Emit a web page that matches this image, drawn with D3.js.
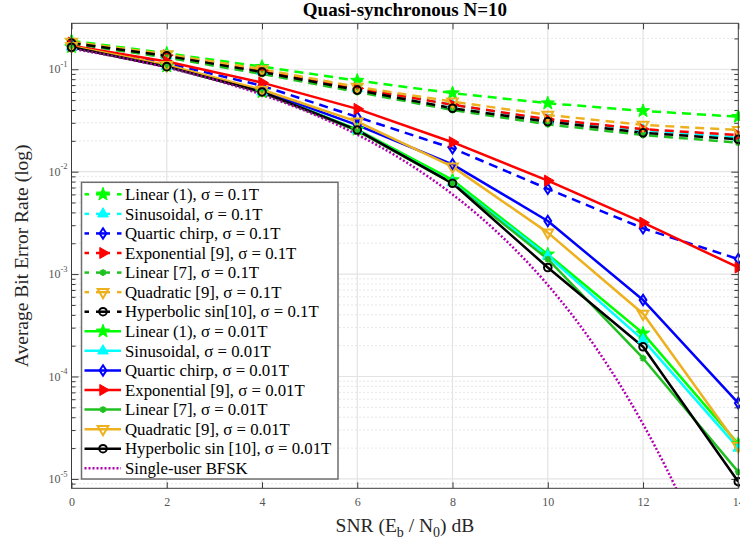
<!DOCTYPE html>
<html>
<head>
<meta charset="utf-8">
<script src="https://cdn.jsdelivr.net/npm/d3@7"></script>
<style>
  body { margin: 0; background: #fff; }
  svg { display: block; }
</style>
</head>
<body>
<svg id="chart" width="740" height="543"></svg>
<script>
// ---- data: average BER versus SNR (dB) ----
const snr = [0, 2, 4, 6, 8, 10, 12, 14];

// sigma = 0.1T (dashed)
const linear1Wide     = [0.190, 0.143, 0.106, 0.0775, 0.0585, 0.0466, 0.0392, 0.0344];
const sinusoidalWide  = [0.180, 0.135, 0.096, 0.0650, 0.0450, 0.0320, 0.0255, 0.0215];
const quarticWide     = [0.170, 0.115, 0.069, 0.0342, 0.0169, 0.0068, 0.0028, 0.0014];
const exponentialWide = [0.182, 0.137, 0.097, 0.0650, 0.0450, 0.0325, 0.0260, 0.0228];
const linear7Wide     = [0.178, 0.130, 0.090, 0.0600, 0.0400, 0.0290, 0.0228, 0.0192];
const quadraticWide   = [0.185, 0.140, 0.100, 0.0672, 0.0483, 0.0358, 0.0286, 0.0255];
const hypsinWide      = [0.180, 0.135, 0.094, 0.0626, 0.0416, 0.0308, 0.0240, 0.0207];

// sigma = 0.01T (solid)
const linear1Narrow     = [0.165, 0.107, 0.060, 0.0258, 0.0083, 0.00156, 0.000264, 0.0000220];
const sinusoidalNarrow  = [0.165, 0.107, 0.060, 0.0255, 0.0078, 0.00150, 0.000228, 0.0000200];
const quarticNarrow     = [0.166, 0.108, 0.062, 0.0285, 0.0118, 0.00330, 0.000558, 0.0000550];
const exponentialNarrow = [0.170, 0.119, 0.074, 0.0410, 0.0194, 0.00817, 0.00318, 0.00116];
const linear7Narrow     = [0.164, 0.106, 0.059, 0.0250, 0.0077, 0.00140, 0.000151, 0.0000117];
const quadraticNarrow   = [0.168, 0.110, 0.063, 0.0308, 0.0112, 0.00254, 0.000410, 0.0000210];
const hypsinNarrow      = [0.164, 0.106, 0.060, 0.0255, 0.0077, 0.00116, 0.000195, 0.0000094];

// single-user BFSK reference curve
const bfskSnr = [0, 1, 2, 3, 4, 5, 6, 7, 8, 9, 10, 11, 12, 12.5, 13];
const bfskBer = [0.159, 0.131, 0.104, 0.0789, 0.0565, 0.0377, 0.0230, 0.0126, 0.0060, 0.00241,
                 0.000783, 0.000194, 0.0000343, 0.0000124, 0.0000040];

const legendLabels = [
  "Linear (1), \u03c3 = 0.1T",
  "Sinusoidal, \u03c3 = 0.1T",
  "Quartic chirp, \u03c3 = 0.1T",
  "Exponential [9], \u03c3 = 0.1T",
  "Linear [7], \u03c3 = 0.1T",
  "Quadratic [9], \u03c3 = 0.1T",
  "Hyperbolic sin[10], \u03c3 = 0.1T",
  "Linear (1), \u03c3 = 0.01T",
  "Sinusoidal, \u03c3 = 0.01T",
  "Quartic chirp, \u03c3 = 0.01T",
  "Exponential [9], \u03c3 = 0.01T",
  "Linear [7], \u03c3 = 0.01T",
  "Quadratic [9], \u03c3 = 0.01T",
  "Hyperbolic sin [10], \u03c3 = 0.01T",
  "Single-user BFSK"
];

const xTickValues = [0, 2, 4, 6, 8, 10, 12, 14];
const yTickExponents = [-1, -2, -3, -4, -5];
const yLimits = [8.1e-6, 0.281];
const xLimits = [0, 14];
const titleText = "Quasi-synchronous N=10";

// ---- styling table ----
const GREEN = "#00ff00", CYAN = "#00ffff", BLUE = "#0000ff", RED = "#ff0000",
      GREEN2 = "#20c020", ORANGE = "#edb120", BLACK = "#000000", PURPLE = "#b000b0";

const seriesTable = [
  { v: linear1Wide,       color: GREEN,  marker: "star",    dash: true },
  { v: sinusoidalWide,    color: CYAN,   marker: "triUp",   dash: true },
  { v: quarticWide,       color: BLUE,   marker: "diamond", dash: true },
  { v: exponentialWide,   color: RED,    marker: "triRight",dash: true },
  { v: linear7Wide,       color: GREEN2, marker: "aster",   dash: true },
  { v: quadraticWide,     color: ORANGE, marker: "triDown", dash: true },
  { v: hypsinWide,        color: BLACK,  marker: "circle",  dash: true },
  { v: linear1Narrow,     color: GREEN,  marker: "star",    dash: false },
  { v: sinusoidalNarrow,  color: CYAN,   marker: "triUp",   dash: false },
  { v: quarticNarrow,     color: BLUE,   marker: "diamond", dash: false },
  { v: exponentialNarrow, color: RED,    marker: "triRight",dash: false },
  { v: linear7Narrow,     color: GREEN2, marker: "aster",   dash: false },
  { v: quadraticNarrow,   color: ORANGE, marker: "triDown", dash: false },
  { v: hypsinNarrow,      color: BLACK,  marker: "circle",  dash: false }
];

// ---- layout ----
const svg = d3.select("#chart");
const L = 71.5, R = 738.3, T = 23.3, B = 488.3;
const x = d3.scaleLinear().domain(xLimits).range([L, R]);
const y = d3.scaleLog().domain(yLimits).range([B, T]);
const SERIF = "'Liberation Serif', 'Times New Roman', Times, serif";

// minor decade values inside the axis range
const minorVals = [];
for (let e = -6; e <= 0; e++) {
  for (let m = 2; m <= 9; m++) {
    const v = m * Math.pow(10, e);
    if (v >= yLimits[0] && v <= yLimits[1]) minorVals.push(v);
  }
}
const majorVals = yTickExponents.map(e => Math.pow(10, e));

// ---- grid ----
const grid = svg.append("g");
grid.selectAll("line.minor").data(minorVals).join("line")
  .attr("x1", L).attr("x2", R)
  .attr("y1", d => y(d)).attr("y2", d => y(d))
  .attr("stroke", "#cfcfcf").attr("stroke-width", 1)
  .attr("stroke-dasharray", "1,3");
grid.selectAll("line.hmaj").data(majorVals).join("line")
  .attr("x1", L).attr("x2", R)
  .attr("y1", d => y(d)).attr("y2", d => y(d))
  .attr("stroke", "#e3e3e3").attr("stroke-width", 1.2);
grid.selectAll("line.vmaj").data(xTickValues.filter(d => d > xLimits[0] && d < xLimits[1])).join("line")
  .attr("x1", d => x(d)).attr("x2", d => x(d))
  .attr("y1", T).attr("y2", B)
  .attr("stroke", "#e3e3e3").attr("stroke-width", 1.2);

// ---- axes (ticks pointing inward) ----
const axisColor = "#3c3c3c";
function styleAxis(g) {
  g.select(".domain").remove();
  g.selectAll(".tick line").attr("stroke", axisColor);
  g.selectAll("text").attr("fill", "#555").attr("font-family", SERIF).attr("font-size", 12);
}
svg.append("g").attr("transform", `translate(0,${B})`)
  .call(d3.axisBottom(x).tickValues(xTickValues).tickSize(-6).tickPadding(9).tickFormat(d3.format("d")))
  .call(styleAxis);
svg.append("g").attr("transform", `translate(0,${T})`)
  .call(d3.axisTop(x).tickValues(xTickValues).tickSize(-6).tickFormat(""))
  .call(styleAxis);

const yLeft = svg.append("g").attr("transform", `translate(${L},0)`)
  .call(d3.axisLeft(y).tickValues(majorVals).tickSize(-7).tickPadding(12).tickFormat(""))
  .call(styleAxis);
yLeft.selectAll(".tick").each(function (d) {
  const t = d3.select(this).append("text")
    .attr("x", -4).attr("dy", "0.36em").attr("text-anchor", "end")
    .attr("font-family", SERIF).attr("fill", "#555");
  t.append("tspan").attr("font-size", 12).text("10");
  t.append("tspan").attr("font-size", 8.5).attr("dy", "-0.75em").text(String(Math.round(Math.log10(d))).replace("-", "-"));
});
svg.append("g").attr("transform", `translate(${L},0)`)
  .call(d3.axisLeft(y).tickValues(minorVals).tickSize(-4).tickFormat(""))
  .call(styleAxis);
svg.append("g").attr("transform", `translate(${R},0)`)
  .call(d3.axisRight(y).tickValues(majorVals).tickSize(-7).tickFormat(""))
  .call(styleAxis);
svg.append("g").attr("transform", `translate(${R},0)`)
  .call(d3.axisRight(y).tickValues(minorVals).tickSize(-4).tickFormat(""))
  .call(styleAxis);

// ---- marker shapes ----
function markerPath(type) {
  if (type === "star") {
    const pts = [];
    for (let i = 0; i < 10; i++) {
      const a = -Math.PI / 2 + i * Math.PI / 5;
      const r = i % 2 === 0 ? 7 : 2.9;
      pts.push([r * Math.cos(a), r * Math.sin(a)]);
    }
    return "M" + pts.map(p => p.join(",")).join("L") + "Z";
  }
  if (type === "triUp") { const s = 6.2; return `M0,${-s}L${s*0.866},${s/2}L${-s*0.866},${s/2}Z`; }
  if (type === "triDown") { const s = 6.2; return `M0,${s}L${s*0.866},${-s/2}L${-s*0.866},${-s/2}Z`; }
  if (type === "triRight") { const s = 6.4; return `M${s},0L${-s/2},${s*0.866}L${-s/2},${-s*0.866}Z`; }
  if (type === "diamond") return "M0,-5.2L3.4,0L0,5.2L-3.4,0Z";
  if (type === "circle") { const r = 3.8; return `M${r},0A${r},${r} 0 1 1 ${-r},0A${r},${r} 0 1 1 ${r},0Z`; }
  if (type === "aster") {
    const r = 3.4, q = r * 0.707;
    return `M${-r},0L${r},0M0,${-r}L0,${r}M${-q},${-q}L${q},${q}M${-q},${q}L${q},${-q}`;
  }
  return "";
}
const filledMarkers = new Set(["star", "triUp", "triRight"]);
function drawMarker(g, type, color, cx, cy) {
  const filled = filledMarkers.has(type);
  g.append("path")
    .attr("d", markerPath(type))
    .attr("transform", `translate(${cx},${cy})`)
    .attr("fill", filled ? color : "none")
    .attr("stroke", color)
    .attr("stroke-width", filled ? 1 : (type === "aster" ? 1.8 : 2))
    .attr("stroke-linejoin", "miter");
}

// ---- series ----
svg.append("clipPath").attr("id", "plotClip")
  .append("rect").attr("x", L).attr("y", T).attr("width", R - L).attr("height", B - T);
const plot = svg.append("g").attr("clip-path", "url(#plotClip)");
const lineGen = d3.line().x(d => x(d[0])).y(d => y(d[1]));

seriesTable.forEach(s => {
  const pts = snr.map((xv, i) => [xv, s.v[i]]);
  plot.append("path")
    .attr("d", lineGen(pts))
    .attr("fill", "none")
    .attr("stroke", s.color)
    .attr("stroke-width", 2.5)
    .attr("stroke-dasharray", s.dash ? "9,6" : null)
    .attr("stroke-linejoin", "round");
});
const markerLayer = svg.append("g");
seriesTable.forEach(s => {
  snr.forEach((xv, i) => drawMarker(markerLayer, s.marker, s.color, x(xv), y(s.v[i])));
});

// BFSK curve, smoothed in log space
const bfskLine = d3.line().curve(d3.curveMonotoneX).x(d => x(d[0])).y(d => y(d[1]));
plot.append("path")
  .attr("d", bfskLine(bfskSnr.map((xv, i) => [xv, bfskBer[i]])))
  .attr("fill", "none")
  .attr("stroke", PURPLE)
  .attr("stroke-width", 2.5)
  .attr("stroke-dasharray", "2,2");

// ---- box ----
svg.append("rect").attr("x", L).attr("y", T).attr("width", R - L).attr("height", B - T)
  .attr("fill", "none").attr("stroke", axisColor).attr("stroke-width", 1);

// ---- title and axis labels ----
svg.append("text").attr("x", (L + R) / 2).attr("y", 15.5)
  .attr("text-anchor", "middle").attr("font-family", SERIF)
  .attr("font-weight", "bold").attr("font-size", 19).attr("fill", "#000")
  .text(titleText);

const xl = svg.append("text").attr("x", (L + R) / 2).attr("y", 532)
  .attr("text-anchor", "middle").attr("font-family", SERIF)
  .attr("font-size", 19.5).attr("fill", "#262626");
xl.append("tspan").text("SNR (E");
xl.append("tspan").attr("font-size", 14).attr("dy", 5).text("b");
xl.append("tspan").attr("dy", -5).text(" / N");
xl.append("tspan").attr("font-size", 14).attr("dy", 5).text("0");
xl.append("tspan").attr("dy", -5).text(") dB");

svg.append("text")
  .attr("transform", `translate(28,${(T + B) / 2}) rotate(-90)`)
  .attr("text-anchor", "middle").attr("font-family", SERIF)
  .attr("font-size", 19.5).attr("fill", "#262626")
  .text("Average Bit Error Rate (log)");

// ---- legend ----
const lg = svg.append("g");
const LX0 = 81.5, LX1 = 338, LY0 = 182.3, LY1 = 479;
lg.append("rect").attr("x", LX0).attr("y", LY0).attr("width", LX1 - LX0).attr("height", LY1 - LY0)
  .attr("fill", "#fff").attr("stroke", "#6e6e6e").attr("stroke-width", 1.5);
const rowStep = 19.57, row0 = 194.3;
const legendStyles = seriesTable.map(s => ({ color: s.color, marker: s.marker, dash: s.dash, kind: "series" }))
  .concat([{ color: PURPLE, marker: null, dash: false, kind: "dotted" }]);
legendLabels.forEach((label, i) => {
  const cy = row0 + i * rowStep;
  const st = legendStyles[i];
  if (st.kind === "dotted") {
    lg.append("line").attr("x1", 84.5).attr("x2", 121).attr("y1", cy).attr("y2", cy)
      .attr("stroke", st.color).attr("stroke-width", 2.5).attr("stroke-dasharray", "2,2");
  } else if (st.dash) {
    [[84.5, 89], [96, 110], [117, 121.5]].forEach(seg =>
      lg.append("line").attr("x1", seg[0]).attr("x2", seg[1]).attr("y1", cy).attr("y2", cy)
        .attr("stroke", st.color).attr("stroke-width", 2.5));
  } else {
    lg.append("line").attr("x1", 84.5).attr("x2", 121).attr("y1", cy).attr("y2", cy)
      .attr("stroke", st.color).attr("stroke-width", 2.5);
  }
  if (st.marker) drawMarker(lg, st.marker, st.color, 103, cy);
  lg.append("text").attr("x", 125).attr("y", cy).attr("dy", "0.34em")
    .attr("font-family", SERIF).attr("font-size", 16.8).attr("fill", "#000")
    .text(label);
});
</script>
</body>
</html>
